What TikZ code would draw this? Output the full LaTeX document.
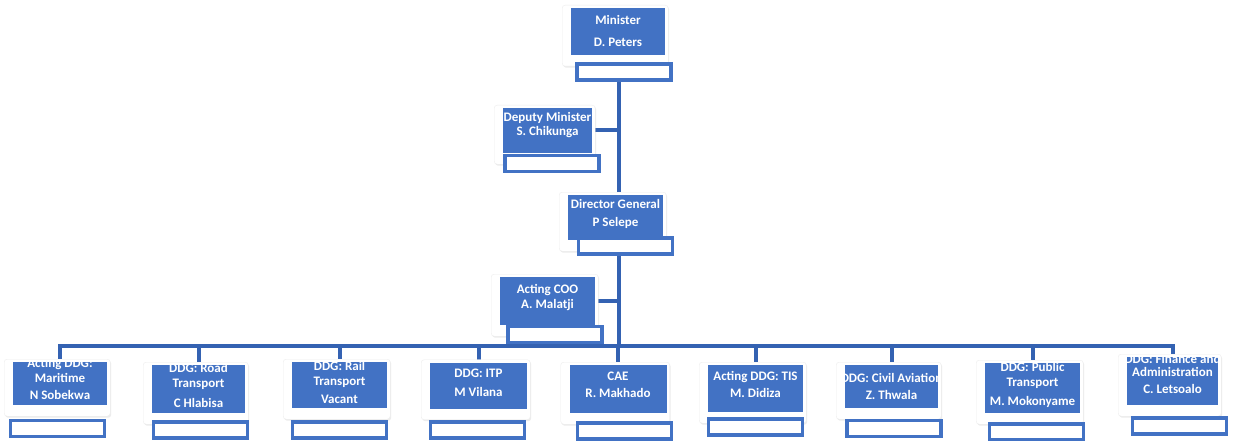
\documentclass[tikz,border=0pt]{standalone}
\usepackage{fontspec}
\setmainfont{Carlito}
\usetikzlibrary{shadows,backgrounds}
\definecolor{orgblue}{RGB}{66,114,196}
\definecolor{connblue}{RGB}{52,98,178}
\tikzset{
 card/.style={draw=black!7, line width=0.4pt, fill=white, rounded corners=3pt, drop shadow={opacity=0.15, shadow xshift=1pt, shadow yshift=-1.5pt}, inner sep=0pt, anchor=north west},
 bluebox/.style={fill=orgblue, draw=none, inner sep=0pt},
 smallbox/.style={draw=orgblue, line width=3.2pt, fill=white, inner sep=0pt, minimum width=94pt, minimum height=16pt},
 lbl/.style={text=white, font=\fontsize{13}{14.5}\selectfont\bfseries, align=center, inner sep=0pt},
 conn/.style={draw=connblue, line width=4pt},
}
\newcommand\orgunit[9]{%
 \node[card, minimum width=#4+12, minimum height=#5+14] (#1c) at (#2-#4/2-9,#3-#5/2-3) {};
 \node[bluebox, minimum width=#4, minimum height=#5, path picture={\node[lbl,yshift=#9] at (path picture bounding box.center) {#8};}] (#1) at (#2,#3) {};
 \node[smallbox] (#1s) at (#6,#7) {};
}
\begin{document}
\begin{tikzpicture}[x=1pt,y=-1pt]
\useasboundingbox (0,0) rectangle (1236,441);
\orgunit{min}{618}{31.5}{94}{47}{624}{72}{Minister\\[7pt]D. Peters}{0.5}
\orgunit{dep}{547.5}{130.5}{89}{45}{552}{163.5}{Deputy Minister\\S. Chikunga}{5.5}
\orgunit{dg}{615.5}{217.5}{95}{45}{625.5}{246}{Director General\\[3pt]P Selepe}{3.5}
\orgunit{coo}{547.5}{301}{95}{48}{555}{334.5}{Acting COO\\[1pt]A. Malatji}{3.5}
\orgunit{mar}{60}{383.5}{94}{43}{57.5}{428.5}{Acting DDG:\\Maritime\\[3pt]N Sobekwa}{4.5}
\orgunit{road}{198.5}{389}{93}{48}{200.5}{430}{DDG: Road\\Transport\\[6pt]C Hlabisa}{3.5}
\orgunit{rail}{339.5}{385}{95}{46}{339.5}{430}{DDG: Rail\\Transport\\[4pt]Vacant}{2.5}
\orgunit{itp}{478.5}{385.5}{97}{46}{477.5}{430}{DDG: ITP\\[5pt]M Vilana}{2.5}
\orgunit{cae}{618}{389}{97}{48}{624.5}{431}{CAE\\[2pt]R. Makhado}{4}
\orgunit{tis}{755.5}{388.5}{95}{47}{755.5}{427}{Acting DDG: TIS\\[2pt]M. Didiza}{4}
\orgunit{civ}{891.5}{386.5}{93}{43}{894}{428.5}{DDG: Civil Aviation\\[3pt]Z. Thwala}{0}
\orgunit{pub}{1032.5}{388}{95}{50}{1036.5}{432}{DDG: Public\\Transport\\[5pt]M. Mokonyame}{3}
\orgunit{fin}{1172.5}{381}{91}{48}{1179.5}{426}{DDG: Finance and\\[-2pt]Administration\\[3pt]C. Letsoalo}{7}
\begin{pgfonlayer}{background}
\fill[white] (0,0) rectangle (1236,441);
\coordinate (trunk) at (619,0);
\coordinate (bus) at (0,346);
\draw[conn] (trunk |- mins.south) -- (trunk |- dgc.north);
\draw[conn] (dep.east) -- (dep.east -| trunk);
\draw[conn] (trunk |- dgs.south) -- (trunk |- bus);
\draw[conn] (coo.east) -- (coo.east -| trunk);
\draw[conn] (mar.north) -- (mar.north |- bus) -- (fin.north |- bus) -- (fin.north);
\foreach \n in {road,rail,itp,cae,tis,civ,pub} \draw[conn] (\n.north |- bus) -- (\n.north);
\end{pgfonlayer}
\end{tikzpicture}
\end{document}
